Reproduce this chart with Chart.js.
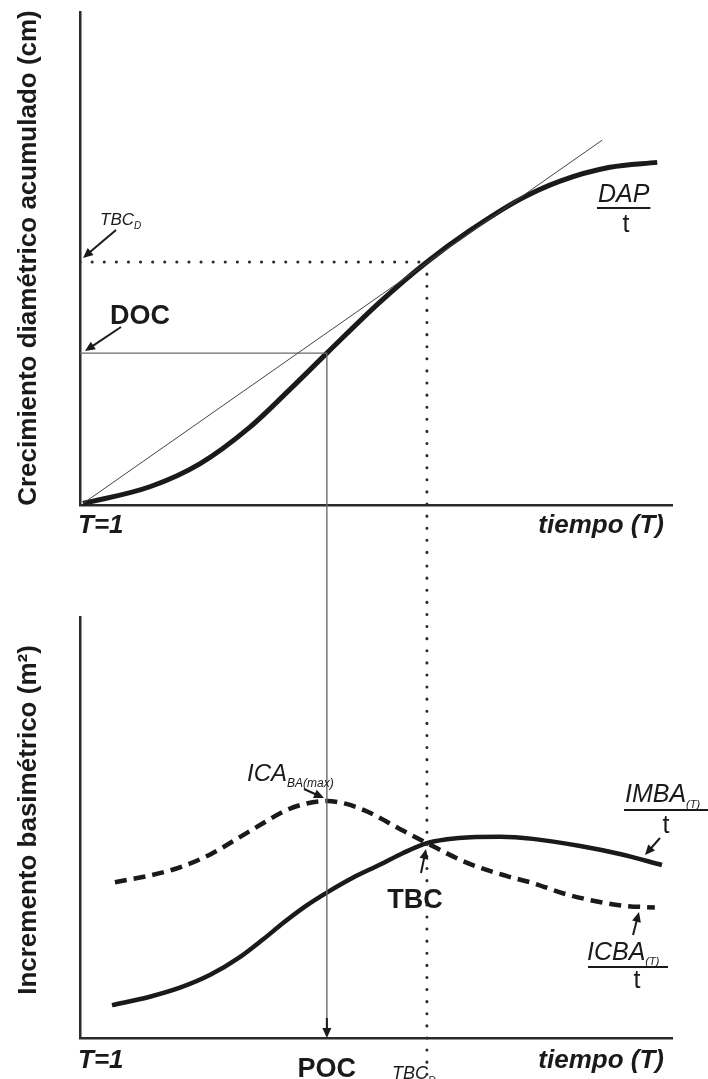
<!DOCTYPE html>
<html>
<head>
<meta charset="utf-8">
<script src="https://cdn.jsdelivr.net/npm/chart.js@4.4.1/dist/chart.umd.min.js"></script>
<style>
  html, body { margin: 0; padding: 0; background: #fff; }
  #wrap { position: relative; width: 708px; height: 1079px; overflow: hidden; }
  canvas { position: absolute; left: 0; }
  #top { top: 0; }
  #bot { top: 560px; }
</style>
</head>
<body>
<div id="wrap">
  <canvas id="top" width="708" height="560"></canvas>
  <canvas id="bot" width="708" height="519"></canvas>
</div>
<script>
// tiempo (T) on a 0..100 scale (arbitrary units)
const dapT   = [0.5, 11.8, 20.3, 28.7, 35.5, 41.7, 50.7, 58.6, 65.9, 74.3, 81.1, 89.5, 97.5];
const dapVal = [0.3, 3.7, 8.4, 15.8, 23.5, 30.8, 41.2, 49.3, 55.7, 62.0, 65.7, 68.5, 69.5];

const tangentT   = [0.5, 88.2];
const tangentVal = [0.3, 74.0];

const pocT = 41.7;     // DOC / POC
const docVal = 30.8;
const tbcT = 58.6;     // TBC
const tbcVal = 49.3;

const icbaT   = [5.9, 11.8, 17, 22, 26.5, 30.9, 34.5, 37.7, 41.7, 45, 48.5, 54.1, 58.6, 65.4, 72, 76.5, 82, 87.8, 92, 97.1];
const icbaVal = [37.0, 38.6, 40.6, 43.6, 47.3, 51.0, 53.9, 55.5, 56.3, 55.6, 53.8, 49.6, 46.3, 41.6, 38.5, 36.8, 34.2, 32.3, 31.4, 31.0];

const imbaT   = [5.4, 11.8, 17, 22, 27, 31, 34.3, 38, 41.9, 46, 50.7, 54.5, 58.6, 62, 66, 71, 76.5, 84.5, 91.2, 98.3];
const imbaVal = [7.8, 9.8, 12.0, 15.0, 19.2, 23.5, 27.3, 31.2, 34.7, 38.0, 41.2, 43.9, 46.3, 47.2, 47.7, 47.8, 47.3, 45.6, 43.7, 41.1];

const FONT = '"Liberation Sans", Arial, sans-serif';
const INK = '#1a1a1a';

const pts = (xs, ys) => xs.map((x, i) => ({ x: x, y: ys[i] }));

function txt(ctx, s, x, y, font, align) {
  ctx.font = font;
  ctx.fillStyle = INK;
  ctx.textAlign = align || 'left';
  ctx.textBaseline = 'alphabetic';
  ctx.fillText(s, x, y);
  return ctx.measureText(s).width;
}

function arrow(ctx, x1, y1, x2, y2) {
  const a = Math.atan2(y2 - y1, x2 - x1), h = 10, w = 4.5;
  const c = Math.cos(a), s = Math.sin(a);
  ctx.save();
  ctx.strokeStyle = INK; ctx.fillStyle = INK; ctx.lineWidth = 2;
  ctx.beginPath();
  ctx.moveTo(x1, y1);
  ctx.lineTo(x2 - h * 0.8 * c, y2 - h * 0.8 * s);
  ctx.stroke();
  ctx.beginPath();
  ctx.moveTo(x2, y2);
  ctx.lineTo(x2 - h * c + w * s, y2 - h * s - w * c);
  ctx.lineTo(x2 - h * c - w * s, y2 - h * s + w * c);
  ctx.closePath();
  ctx.fill();
  ctx.restore();
}

function dots(ctx, x, y1, y2) {
  ctx.save();
  ctx.strokeStyle = '#2a2a2a'; ctx.lineWidth = 3; ctx.lineCap = 'round';
  ctx.setLineDash([0.1, 12]);
  ctx.beginPath(); ctx.moveTo(x, y1); ctx.lineTo(x, y2); ctx.stroke();
  ctx.restore();
}

function thinV(ctx, x, y1, y2) {
  ctx.save();
  ctx.strokeStyle = '#6a6a6a'; ctx.lineWidth = 1.4;
  ctx.beginPath(); ctx.moveTo(x, y1); ctx.lineTo(x, y2); ctx.stroke();
  ctx.restore();
}

function yTitle(ctx, s, cx, cy) {
  ctx.save();
  ctx.translate(cx, cy);
  ctx.rotate(-Math.PI / 2);
  ctx.font = 'bold 26px ' + FONT;
  ctx.fillStyle = INK;
  ctx.textAlign = 'center';
  ctx.textBaseline = 'middle';
  ctx.fillText(s, 0, 0);
  ctx.restore();
}

function axis(isX) {
  return {
    type: 'linear',
    min: 0, max: 100,
    grid: { display: false, drawTicks: false },
    ticks: { display: false },
    border: { display: true, color: '#2b2b2b', width: 2.5 },
    afterFit(s) { if (isX) s.height = 0; else s.width = 0; }
  };
}

const common = {
  responsive: false,
  animation: false,
  events: [],
  plugins: { legend: { display: false }, tooltip: { enabled: false } },
  elements: { point: { radius: 0 } }
};

// ---- top panel: accumulated diameter growth ----
new Chart(document.getElementById('top'), {
  type: 'line',
  data: {
    datasets: [
      { data: pts(tangentT, tangentVal), borderColor: '#444', borderWidth: 1, tension: 0 },
      { data: pts([0, pocT], [docVal, docVal]), borderColor: '#6a6a6a', borderWidth: 1.4, tension: 0 },
      { data: pts([0, tbcT], [tbcVal, tbcVal]), borderColor: '#2a2a2a', borderWidth: 3,
        borderDash: [0.1, 12], borderCapStyle: 'round', tension: 0 },
      { data: pts(dapT, dapVal), borderColor: INK, borderWidth: 5,
        cubicInterpolationMode: 'monotone', borderCapStyle: 'butt', clip: false }
    ]
  },
  options: Object.assign({}, common, {
    layout: { padding: { left: 80, right: 36, top: 12, bottom: 55 } },
    scales: { x: axis(true), y: axis(false) }
  }),
  plugins: [{
    id: 'topNotes',
    afterDatasetsDraw(chart) {
      const ctx = chart.ctx, x = chart.scales.x, y = chart.scales.y, H = chart.height;
      thinV(ctx, x.getPixelForValue(pocT), y.getPixelForValue(docVal), H);
      dots(ctx, x.getPixelForValue(tbcT), y.getPixelForValue(tbcVal), H);
    },
    afterDraw(chart) {
      const ctx = chart.ctx;
      yTitle(ctx, 'Crecimiento diamétrico acumulado (cm)', 29, 258);

      let w = txt(ctx, 'TBC', 100, 225, 'italic 17px ' + FONT);
      txt(ctx, 'D', 100 + w, 229, 'italic 10px ' + FONT);
      arrow(ctx, 116, 230, 83, 258);

      txt(ctx, 'DOC', 110, 324, 'bold 27px ' + FONT);
      arrow(ctx, 121, 327, 85, 351);

      w = txt(ctx, 'DAP', 598, 202, 'italic 25px ' + FONT);
      ctx.fillRect(597, 207, w + 2, 2);
      txt(ctx, 't', 626, 232, '25px ' + FONT, 'center');

      txt(ctx, 'T=1', 78, 533, 'bold italic 26px ' + FONT);
      txt(ctx, 'tiempo (T)', 664, 533, 'bold italic 26px ' + FONT, 'right');
    }
  }]
});

// ---- bottom panel: basal area increment ----
new Chart(document.getElementById('bot'), {
  type: 'line',
  data: {
    datasets: [
      { data: pts(icbaT, icbaVal), borderColor: INK, borderWidth: 4.5, borderDash: [12, 7],
        cubicInterpolationMode: 'monotone', borderCapStyle: 'butt' },
      { data: pts(imbaT, imbaVal), borderColor: INK, borderWidth: 4.5,
        cubicInterpolationMode: 'monotone', borderCapStyle: 'butt' }
    ]
  },
  options: Object.assign({}, common, {
    layout: { padding: { left: 80, right: 36, top: 57, bottom: 41 } },
    scales: { x: axis(true), y: axis(false) }
  }),
  plugins: [{
    id: 'botNotes',
    afterDatasetsDraw(chart) {
      const ctx = chart.ctx, x = chart.scales.x, a = chart.chartArea;
      const px = x.getPixelForValue(pocT);
      thinV(ctx, px, 0, a.bottom - 8);
      arrow(ctx, px, a.bottom - 20, px, a.bottom);
      dots(ctx, x.getPixelForValue(tbcT), 6, chart.height);
    },
    afterDraw(chart) {
      const ctx = chart.ctx, x = chart.scales.x;
      yTitle(ctx, 'Incremento basimétrico (m²)', 29, 260);

      let w = txt(ctx, 'ICA', 247, 221, 'italic 24px ' + FONT);
      txt(ctx, 'BA(max)', 247 + w, 227, 'italic 12px ' + FONT);
      arrow(ctx, 304, 229, 324, 238);

      txt(ctx, 'TBC', 415, 348, 'bold 27px ' + FONT, 'center');
      arrow(ctx, 421, 313, 426, 289);

      w = txt(ctx, 'IMBA', 625, 242, 'italic 25px ' + FONT);
      txt(ctx, '(T)', 625 + w, 248, 'italic 11px ' + FONT);
      ctx.fillRect(624, 249, 84, 2);
      txt(ctx, 't', 666, 273, '25px ' + FONT, 'center');
      arrow(ctx, 660, 278, 645, 295);

      w = txt(ctx, 'ICBA', 587, 400, 'italic 25px ' + FONT);
      txt(ctx, '(T)', 587 + w, 405, 'italic 11px ' + FONT);
      ctx.fillRect(588, 406, 80, 2);
      txt(ctx, 't', 637, 428, '25px ' + FONT, 'center');
      arrow(ctx, 633, 375, 639, 352);

      txt(ctx, 'POC', x.getPixelForValue(pocT), 517, 'bold 27px ' + FONT, 'center');
      w = txt(ctx, 'TBC', 410, 519, 'italic 18px ' + FONT, 'center');
      txt(ctx, 'D', 410 + w / 2, 524, 'italic 11px ' + FONT);

      txt(ctx, 'T=1', 78, 508, 'bold italic 26px ' + FONT);
      txt(ctx, 'tiempo (T)', 664, 508, 'bold italic 26px ' + FONT, 'right');
    }
  }]
});
</script>
</body>
</html>
